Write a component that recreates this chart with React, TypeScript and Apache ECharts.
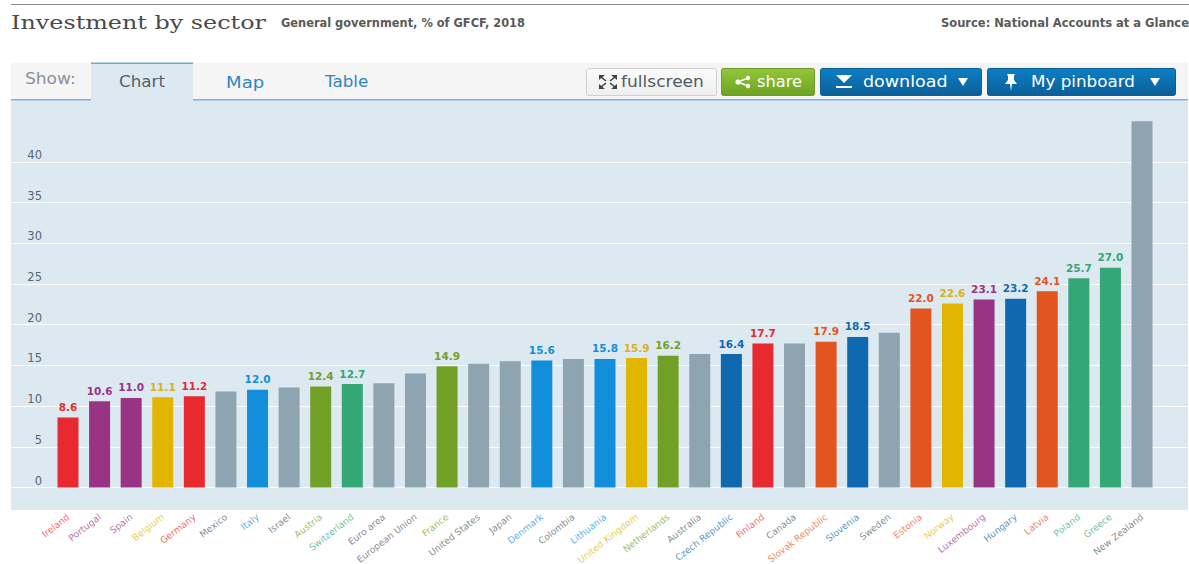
import React, { useEffect, useRef } from "react";
import * as echarts from "echarts";

const RED = "#e8292f", PURPLE = "#993484", YELLOW = "#e2b600", GRAY = "#8fa4b1", BLUE = "#118fdb",
  GREEN = "#72a027", TEAL = "#33a776", NAVY = "#0e69b0", ORANGE = "#e2551f";

const categories = ["Ireland","Portugal","Spain","Belgium","Germany","Mexico","Italy","Israel","Austria","Switzerland","Euro area","European Union","France","United States","Japan","Denmark","Colombia","Lithuania","United Kingdom","Netherlands","Australia","Czech Republic","Finland","Canada","Slovak Republic","Slovenia","Sweden","Estonia","Norway","Luxembourg","Hungary","Latvia","Poland","Greece","New Zealand"];
const values = [8.6,10.6,11.0,11.1,11.2,11.8,12.0,12.3,12.4,12.7,12.8,14.0,14.9,15.2,15.5,15.6,15.8,15.8,15.9,16.2,16.4,16.4,17.7,17.7,17.9,18.5,19.0,22.0,22.6,23.1,23.2,24.1,25.7,27.0,45.0];
const colors = [RED,PURPLE,PURPLE,YELLOW,RED,GRAY,BLUE,GRAY,GREEN,TEAL,GRAY,GRAY,GREEN,GRAY,GRAY,BLUE,GRAY,BLUE,YELLOW,GREEN,GRAY,NAVY,RED,GRAY,ORANGE,NAVY,GRAY,ORANGE,YELLOW,PURPLE,NAVY,ORANGE,TEAL,TEAL,GRAY];
const labelled = [1,1,1,1,1,0,1,0,1,1,0,0,1,0,0,1,0,1,1,1,0,1,1,0,1,1,0,1,1,1,1,1,1,1,0];
const tickStep = 5;
const axisMax = 45;

const T = "DejaVu Sans";
const grad = (a: string, b: string) => new echarts.graphic.LinearGradient(0, 0, 0, 1, [{ offset: 0, color: a }, { offset: 1, color: b }]);
const txt = (text: string, x: number, y: number, fill: string, size: number, extra: any = {}) => ({
  type: "text", x, y, silent: true, scaleX: extra.scaleX || 1,
  style: { text, fill, font: `${extra.weight || "normal"} ${size}px "${extra.family || T}"`, textAlign: extra.align || "left", textVerticalAlign: "middle" },
});
const btn = (x: number, w: number, fill: any, stroke: string) => ({
  type: "rect", shape: { x: x + 0.5, y: 68.5, width: w, height: 27, r: 2 }, style: { fill, stroke, lineWidth: 1 }, silent: true,
});
const down = (x: number) => ({ type: "polygon", shape: { points: [[x, 78], [x + 10, 78], [x + 5, 86]] }, style: { fill: "#fff" }, silent: true });
const corner = (x: number, y: number, dx: number, dy: number) => [
  { type: "polygon", shape: { points: [[x, y], [x + 6 * dx, y], [x, y + 5 * dy]] }, style: { fill: "#3d454b" }, silent: true },
  { type: "line", shape: { x1: x + 2 * dx, y1: y + 2 * dy, x2: x + 7 * dx, y2: y + 6 * dy }, style: { stroke: "#3d454b", lineWidth: 1.6 }, silent: true },
];

export default function App() {
  const ref = useRef<HTMLDivElement>(null);
  useEffect(() => {
    document.body.style.margin = "0";
    const chart = echarts.init(ref.current!, null, { renderer: "svg" });
    const chrome: any[] = [
      { type: "rect", shape: { x: 11, y: 100, width: 1177, height: 410 }, style: { fill: "#dde9f1" }, silent: true, z: -10 },
      { type: "line", shape: { x1: 11, y1: 4.5, x2: 1189, y2: 4.5 }, style: { stroke: "#8c8c8c", lineWidth: 1 }, silent: true },
      txt("Investment by sector", 11, 23, "#4a4a4a", 18.5, { family: "DejaVu Serif", scaleX: 1.29 }),
      txt("General government, % of GFCF, 2018", 281, 23, "#5a5a5a", 11.4, { weight: "bold" }),
      txt("Source: National Accounts at a Glance", 1189, 23, "#5a5a5a", 11.5, { weight: "bold", align: "right" }),
      { type: "rect", shape: { x: 11, y: 63, width: 1177, height: 36 }, style: { fill: "#f5f5f5" }, silent: true },
      { type: "rect", shape: { x: 11, y: 99, width: 1177, height: 1.5 }, style: { fill: "#7fb4d8" }, silent: true },
      { type: "rect", shape: { x: 91, y: 63, width: 102, height: 38 }, style: { fill: "#dde9f1" }, silent: true },
      { type: "rect", shape: { x: 91, y: 62.5, width: 102, height: 1.5 }, style: { fill: "#6fa9d2" }, silent: true },
      txt("Show:", 25, 79, "#8d8f9c", 15.5, { scaleX: 1.1 }),
      txt("Chart", 119, 82, "#56606a", 15.5, { scaleX: 1.08 }),
      txt("Map", 226, 82, "#2f86bf", 15.5, { scaleX: 1.17 }),
      txt("Table", 325, 82, "#2f86bf", 15.5, { scaleX: 1.08 }),
      btn(586, 130, grad("#fbfbfb", "#efefef"), "#cfcfcf"),
      txt("fullscreen", 621, 82, "#4f5a62", 15.5, { scaleX: 1.1 }),
      ...corner(599, 75, 1, 1), ...corner(617, 75, -1, 1), ...corner(599, 89, 1, -1), ...corner(617, 89, -1, -1),
      btn(721, 93, grad("#93c63a", "#6ca321"), "#6f9a2c"),
      { type: "polyline", shape: { points: [[748, 78], [738, 82], [748, 86]] }, style: { stroke: "#fff", lineWidth: 1.5, fill: "none" }, silent: true },
      { type: "circle", shape: { cx: 748, cy: 78, r: 2.2 }, style: { fill: "#fff" }, silent: true },
      { type: "circle", shape: { cx: 738, cy: 82, r: 2.6 }, style: { fill: "#fff" }, silent: true },
      { type: "circle", shape: { cx: 748, cy: 86, r: 2.2 }, style: { fill: "#fff" }, silent: true },
      txt("share", 757, 82, "#fff", 15.5, { scaleX: 1.05 }),
      btn(820, 161, grad("#0d7fc6", "#0a5f97"), "#0a5f97"),
      { type: "polygon", shape: { points: [[836, 75], [852, 75], [844, 83]] }, style: { fill: "#fff" }, silent: true },
      { type: "rect", shape: { x: 836, y: 86, width: 16, height: 2 }, style: { fill: "#fff" }, silent: true },
      txt("download", 863, 82, "#fff", 15.5, { scaleX: 1.13 }),
      down(958),
      btn(987, 188, grad("#0d7fc6", "#0a5f97"), "#0a5f97"),
      { type: "polygon", shape: { points: [[1007, 74], [1015, 74], [1014, 76], [1014, 80], [1017, 84], [1012, 84], [1011, 91], [1010, 84], [1005, 84], [1008, 80], [1008, 76]] }, style: { fill: "#fff" }, silent: true },
      txt("My pinboard", 1031, 82, "#fff", 15.5, { scaleX: 1.08 }),
      down(1150),
    ];
    chart.setOption({
      animation: false,
      graphic: { elements: chrome },
      grid: [
        { left: 52.2, width: 1105.6, top: 121.2, height: 366.3, outerBoundsMode: "none" },
        { left: 11, width: 1177, top: 121.2, height: 366.3, outerBoundsMode: "none" },
      ],
      xAxis: [
        {
          type: "category", gridIndex: 0,
          data: categories.map((c, i) => ({ value: c, textStyle: { color: colors[i] === GRAY ? "#55595f" : colors[i] } })),
          axisLine: { show: false }, axisTick: { show: false },
          axisLabel: { interval: 0, rotate: 38, margin: 28, fontSize: 9.2, fontFamily: T, opacity: 0.72 },
        },
        { type: "value", gridIndex: 1, min: 0, max: 1, show: false },
      ],
      yAxis: [
        { type: "value", gridIndex: 0, min: 0, max: axisMax, interval: tickStep, show: false },
        {
          type: "value", gridIndex: 1, min: 0, max: axisMax, interval: tickStep,
          axisLine: { show: false }, axisTick: { show: false },
          splitLine: { show: true, showMaxLine: false, lineStyle: { color: "#ffffff", width: 1.2 } },
          axisLabel: { inside: true, showMaxLabel: false, margin: 31, align: "right", verticalAlign: "bottom", padding: [0, 0, 1, 0], fontSize: 11.5, fontFamily: T, color: "#566673" },
        },
      ],
      series: [{
        type: "bar", xAxisIndex: 0, yAxisIndex: 0, barWidth: 21,
        data: values.map((v, i) => ({
          value: v,
          itemStyle: { color: colors[i] },
          label: {
            show: !!labelled[i], position: "top", distance: 5, formatter: v.toFixed(1),
            fontSize: 10.5, fontWeight: "bold", fontFamily: T, color: colors[i] === YELLOW ? "#d9b022" : colors[i],
          },
        })),
      }],
    });
    return () => chart.dispose();
  }, []);
  return <div ref={ref} style={{ position: "fixed", left: 0, top: 0, width: 1189, height: 564, background: "#fff" }} />;
}
